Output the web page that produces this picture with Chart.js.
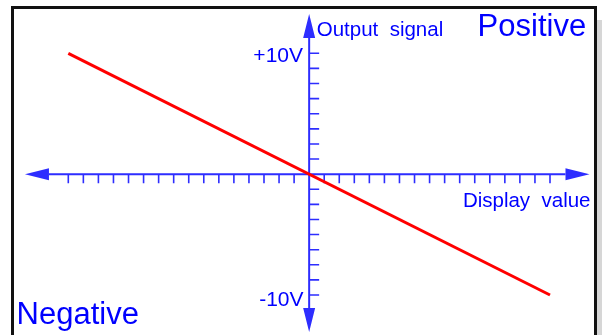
<!DOCTYPE html>
<html>
<head>
<meta charset="utf-8">
<script src="https://cdn.jsdelivr.net/npm/chart.js@4.4.1/dist/chart.umd.min.js"></script>
<style>
    html, body { margin: 0; padding: 0; background: #fff; overflow: hidden; }
    #frame {
        position: absolute; left: 11px; top: 6px;
        width: 586px; height: 400px; box-sizing: border-box;
        border: 3px solid #111;
        box-shadow: 5px 14px 0 #d6d6d6;
        background: #fff;
    }
    #myChart { position: absolute; left: 0; top: 0; }
</style>
</head>
<body>
<div id="frame"></div>
<canvas id="myChart" width="602" height="335"></canvas>
<script>
// 데이터
const displayValue = [-100, 100];
const outputSignal = [10, -10];

const yLabelValues = [10, -10];
const yLabels = ['+10V', '-10V'];

const xTickStep = 6.25;   // 16 눈금 = 100
const yTickStep = 1.25;   // 8 눈금 = 10V

const BLUE = '#0000ff';
const AXIS_BLUE = '#2d2dff';
const FONT = '"Liberation Sans", Arial, sans-serif';

// 십자 축 + 화살표
const crossAxes = {
    id: 'crossAxes',
    beforeDatasetsDraw(chart) {
        const ctx = chart.ctx;
        const x = chart.scales.x, y = chart.scales.y;
        const x0 = x.getPixelForValue(0);
        const y0 = y.getPixelForValue(0);
        const left = x.getPixelForValue(-118), right = x.getPixelForValue(116.4);
        const top = y.getPixelForValue(13.25), bottom = y.getPixelForValue(-13.06);
        const len = 24, half = 6;

        ctx.save();
        ctx.strokeStyle = AXIS_BLUE;
        ctx.fillStyle = AXIS_BLUE;

        ctx.lineWidth = 2;
        ctx.beginPath();
        ctx.moveTo(left + len, y0); ctx.lineTo(right - len, y0);
        ctx.moveTo(x0, top + len); ctx.lineTo(x0, bottom - len);
        ctx.stroke();

        // 눈금
        ctx.lineWidth = 1.6;
        ctx.beginPath();
        for (let v = -100; v <= 100; v += xTickStep) {
            if (v === 0) continue;
            const px = x.getPixelForValue(v);
            ctx.moveTo(px, y0); ctx.lineTo(px, y0 + 9);
        }
        for (let v = -10; v <= 10; v += yTickStep) {
            if (v === 0) continue;
            const py = y.getPixelForValue(v);
            ctx.moveTo(x0, py); ctx.lineTo(x0 + 10, py);
        }
        ctx.stroke();

        // 화살표
        ctx.beginPath();
        ctx.moveTo(left, y0); ctx.lineTo(left + len, y0 - half); ctx.lineTo(left + len, y0 + half); ctx.closePath();
        ctx.moveTo(right, y0); ctx.lineTo(right - len, y0 - half); ctx.lineTo(right - len, y0 + half); ctx.closePath();
        ctx.moveTo(x0, top); ctx.lineTo(x0 - half, top + len); ctx.lineTo(x0 + half, top + len); ctx.closePath();
        ctx.moveTo(x0, bottom); ctx.lineTo(x0 - half, bottom - len); ctx.lineTo(x0 + half, bottom - len); ctx.closePath();
        ctx.fill();
        ctx.restore();
    },
    afterDatasetsDraw(chart) {
        const ctx = chart.ctx;
        const y = chart.scales.y;
        ctx.save();
        ctx.fillStyle = BLUE;
        ctx.textBaseline = 'alphabetic';

        ctx.font = '21px ' + FONT;
        ctx.textAlign = 'right';
        ctx.fillText(yLabels[0], 303, y.getPixelForValue(yLabelValues[0]) + 9);
        ctx.fillText(yLabels[1], 303.5, y.getPixelForValue(yLabelValues[1]) + 11.5);

        ctx.textAlign = 'left';
        ctx.font = '20.5px ' + FONT;
        ctx.fillText('Output  signal', 316.7, 35.7);
        ctx.fillText('Display  value', 462.9, 207.3);

        ctx.font = '31px ' + FONT;
        ctx.fillText('Positive', 477.6, 36.3);
        ctx.fillText('Negative', 16.6, 324.3);
        ctx.restore();
    }
};

const ctx = document.querySelector('#myChart');

new Chart(ctx, {
    type: 'scatter',
    data: {
        datasets: [
            {
                label: 'Output signal',
                data: displayValue.map((v, i) => ({ x: v, y: outputSignal[i] })),
                showLine: true,
                borderColor: '#ff0000',
                borderWidth: 3,
                pointRadius: 0,
                fill: false
            }
        ]
    },
    options: {
        responsive: false,
        animation: false,
        layout: { padding: 0 },
        plugins: {
            legend: { display: false },
            tooltip: { enabled: false }
        },
        scales: {
            x: { type: 'linear', display: false, min: -128.36, max: 121.59 },
            y: { type: 'linear', display: false, min: -13.31, max: 14.41 }
        }
    },
    plugins: [crossAxes]
});
</script>
</body>
</html>
